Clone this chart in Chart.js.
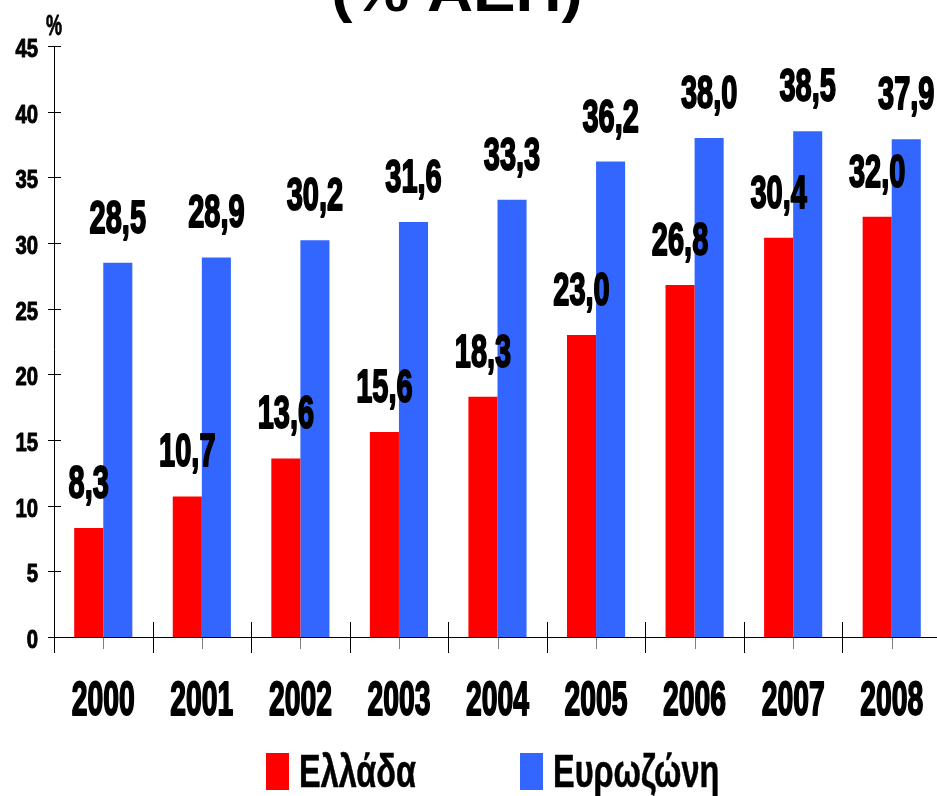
<!DOCTYPE html>
<html>
<head>
<meta charset="utf-8">
<title>Δημόσιο χρέος (% ΑΕΠ)</title>
<script src="https://cdn.jsdelivr.net/npm/chart.js@4/dist/chart.umd.min.js"></script>
<style>
  html, body { margin: 0; padding: 0; background: #fff; overflow: hidden; }
  #wrap { position: absolute; left: 0; top: 0; width: 945px; height: 796px; }
</style>
</head>
<body>
<div id="wrap"><canvas id="chart"></canvas></div>
<script>
// Years on the category axis
const years = ['2000', '2001', '2002', '2003', '2004', '2005', '2006', '2007', '2008'];
// Ratio per year, % of GDP
const greece = [8.3, 10.7, 13.6, 15.6, 18.3, 23.0, 26.8, 30.4, 32.0];
const eurozone = [28.5, 28.9, 30.2, 31.6, 33.3, 36.2, 38.0, 38.5, 37.9];
// Series names
const seriesNames = ['Ελλάδα', 'Ευρωζώνη'];
// Value axis
const yMin = 0;
const yMax = 45;
const yStep = 5;
const yUnit = '%';
const titleText = '(% ΑΕΠ)';

const FAMILY = '"Liberation Sans", Arial, sans-serif';

// Draws text squeezed horizontally, with an optional outline to keep the
// stems heavy after the squeeze
function drawText(ctx, text, x, y, o) {
  ctx.save();
  ctx.font = (o.weight || 'bold') + ' ' + o.size + 'px ' + FAMILY;
  ctx.fillStyle = o.color || '#000';
  ctx.strokeStyle = o.color || '#000';
  ctx.textBaseline = 'alphabetic';
  ctx.textAlign = o.align || 'center';
  ctx.translate(x, y);
  ctx.scale(o.sx || 1, 1);
  ctx.fillText(text, 0, 0);
  if (o.heavy) {
    ctx.lineJoin = 'round';
    ctx.lineWidth = o.heavy;
    ctx.strokeText(text, 0, 0);
  }
  ctx.restore();
}

const fmt = v => v.toFixed(1).replace('.', ',');

const decor = {
  id: 'decor',
  afterDatasetsDraw(chart) {
    const ctx = chart.ctx;
    const xs = chart.scales.x;
    const ys = chart.scales.y;
    const area = chart.chartArea;
    const n = years.length;
    const step = (xs.getPixelForValue(1) - xs.getPixelForValue(0));
    const y0 = ys.getPixelForValue(0);

    ctx.save();
    ctx.lineWidth = 1;
    // value axis line, running down past the baseline
    ctx.strokeStyle = '#000';
    ctx.beginPath();
    ctx.moveTo(area.left + 0.5, area.top);
    ctx.lineTo(area.left + 0.5, y0 + 16);
    ctx.stroke();
    // category axis line
    ctx.beginPath();
    ctx.moveTo(area.left, y0 + 0.5);
    ctx.lineTo(area.right, y0 + 0.5);
    ctx.stroke();
    // value ticks crossing the axis
    ys.ticks.forEach((t, i) => {
      const py = Math.round(ys.getPixelForTick(i)) + 0.5;
      ctx.beginPath();
      ctx.moveTo(area.left - 6, py);
      ctx.lineTo(area.left + 7, py);
      ctx.stroke();
    });
    // category boundary ticks
    for (let i = 1; i <= n; i++) {
      const px = Math.round(xs.getPixelForValue(i - 1) + step / 2) + 0.5;
      ctx.beginPath();
      ctx.moveTo(px, y0 - 15);
      ctx.lineTo(px, y0 + 16);
      ctx.stroke();
    }
    // small grey marks under each category centre
    ctx.strokeStyle = '#7f7f7f';
    for (let i = 0; i < n; i++) {
      const px = Math.round(xs.getPixelForValue(i)) + 0.5;
      ctx.beginPath();
      ctx.moveTo(px, y0 + 1);
      ctx.lineTo(px, y0 + 12);
      ctx.stroke();
    }
    ctx.restore();

    // value tick labels
    ys.ticks.forEach((t, i) => {
      const py = ys.getPixelForTick(i);
      drawText(ctx, String(t.value), area.left - 16, py + 11, { size: 26, sx: 0.78, align: 'right', heavy: 1 });
    });
    drawText(ctx, yUnit, area.left, area.top - 11, { size: 30, sx: 0.6, heavy: 0.8 });

    // category labels
    years.forEach((yr, i) => {
      drawText(ctx, yr, xs.getPixelForValue(i), y0 + 78, { size: 48, sx: 0.59, heavy: 2 });
    });

    // value labels above each bar
    chart.data.datasets.forEach((ds, di) => {
      const meta = chart.getDatasetMeta(di);
      meta.data.forEach((bar, i) => {
        drawText(ctx, fmt(ds.data[i]), bar.x, bar.y - 30, { size: 46, sx: 0.63, heavy: 2 });
      });
    });

    // legend
    const legendItems = [
      { x: 266, ds: chart.data.datasets[0] },
      { x: 520, ds: chart.data.datasets[1] }
    ];
    legendItems.forEach(it => {
      ctx.fillStyle = it.ds.backgroundColor;
      ctx.fillRect(it.x, 753, 23, 37);
      drawText(ctx, it.ds.label, it.x + 33, 787, { size: 47, sx: 0.69, weight: 'bold', align: 'left', heavy: 0.6 });
    });

    // heading
    drawText(ctx, titleText, (area.left + 860) / 2, 11, { size: 58, sx: 1.1 });
  }
};

new Chart(document.getElementById('chart'), {
  type: 'bar',
  data: {
    labels: years,
    datasets: [
      { label: seriesNames[0], data: greece, backgroundColor: '#ff0000', borderWidth: 0 },
      { label: seriesNames[1], data: eurozone, backgroundColor: '#3366ff', borderWidth: 0 }
    ]
  },
  options: {
    responsive: true,
    maintainAspectRatio: false,
    animation: false,
    devicePixelRatio: 1,
    layout: { padding: { top: 46, bottom: 159, left: 54, right: 4 } },
    datasets: { bar: { categoryPercentage: 0.59, barPercentage: 1 } },
    plugins: { legend: { display: false }, title: { display: false }, tooltip: { enabled: false } },
    scales: {
      x: {
        grid: { display: false, drawTicks: false },
        border: { display: false },
        ticks: { display: false },
        afterFit: s => { s.height = 0; }
      },
      y: {
        min: yMin, max: yMax,
        grid: { display: false, drawTicks: false },
        border: { display: false },
        ticks: { display: false, stepSize: yStep },
        afterFit: s => { s.width = 0; }
      }
    }
  },
  plugins: [decor]
});
</script>
</body>
</html>
